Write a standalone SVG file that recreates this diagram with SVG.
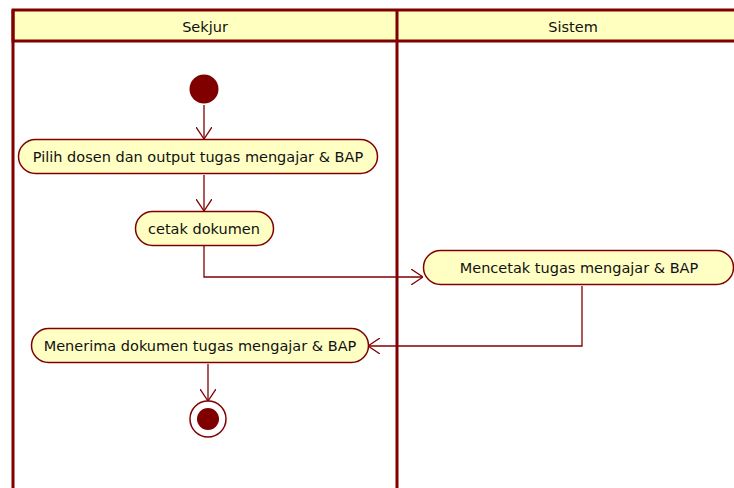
<svg xmlns="http://www.w3.org/2000/svg" width="734" height="488" viewBox="0 0 734 488">
<style>
.lane{fill:none;stroke:#800000;stroke-width:3}
.hdr{fill:#FFFFBF;stroke:#800000;stroke-width:3}
.act{fill:#FFFFC4;stroke:#800000;stroke-width:1.5}
.t{font-family:"DejaVu Sans",sans-serif;font-size:14.5px;fill:#111;text-anchor:middle;dominant-baseline:central}
.c{fill:none;stroke:#800000;stroke-width:1.3}
</style>
<defs>
<marker id="ah" viewBox="0 0 12 16" refX="12" refY="8" markerWidth="12" markerHeight="16" markerUnits="userSpaceOnUse" orient="auto">
<path d="M0,0 L12,8 L0,16" fill="none" stroke="#800000" stroke-width="1.3"/>
</marker>
</defs>
<rect width="734" height="488" fill="#fff"/>
<g id="lanes">
<rect class="hdr" x="13" y="10" width="730" height="31"/>
<line class="lane" x1="13" y1="10" x2="13" y2="490"/>
<line class="lane" x1="397" y1="10" x2="397" y2="490" stroke-width="4"/>
<text class="t" x="205" y="27">Sekjur</text>
<text class="t" x="573" y="27">Sistem</text>
</g>
<g id="connectors">
<line class="c" x1="204" y1="105" x2="204" y2="139" marker-end="url(#ah)"/>
<line class="c" x1="204" y1="175" x2="204" y2="211" marker-end="url(#ah)"/>
<polyline class="c" points="204,246 204,277 423,277" marker-end="url(#ah)"/>
<polyline class="c" points="582,286 582,346 368,346" marker-end="url(#ah)"/>
<line class="c" x1="208" y1="364" x2="208" y2="401" marker-end="url(#ah)"/>
</g>
<g id="start"><circle cx="204" cy="89" r="14.5" fill="#800000"/></g>
<g id="a1"><rect class="act" x="18.5" y="139.5" width="359" height="34" rx="17"/><text class="t" x="198" y="157">Pilih dosen dan output tugas mengajar &amp; BAP</text></g>
<g id="a2"><rect class="act" x="135.5" y="211.5" width="138" height="34" rx="17"/><text class="t" x="204" y="229">cetak dokumen</text></g>
<g id="a3"><rect class="act" x="423.5" y="250.5" width="310" height="34" rx="17"/><text class="t" x="579" y="268">Mencetak tugas mengajar &amp; BAP</text></g>
<g id="a4"><rect class="act" x="31.5" y="328.5" width="337" height="34" rx="17"/><text class="t" x="200" y="346">Menerima dokumen tugas mengajar &amp; BAP</text></g>
<g id="end"><circle cx="208" cy="419" r="18" fill="#fff" stroke="#800000" stroke-width="1.5"/><circle cx="208" cy="419" r="11" fill="#800000"/></g>
</svg>
